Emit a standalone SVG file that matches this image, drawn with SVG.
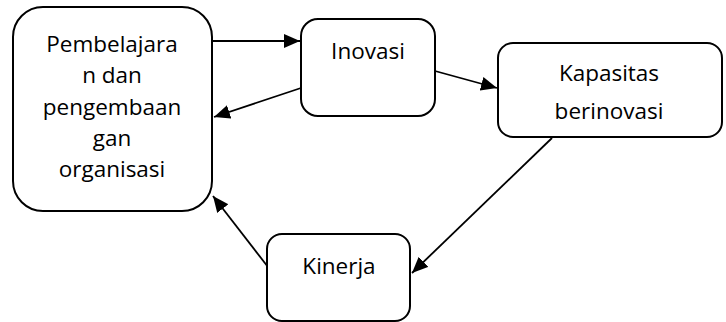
<svg xmlns="http://www.w3.org/2000/svg" width="726" height="322" viewBox="0 0 726 322">
<style>
.box{fill:#fff;stroke:#000;stroke-width:2}
.t{font-family:"Open Sans","Liberation Sans",sans-serif;font-size:22.5px;fill:#000;text-anchor:middle}
.c{stroke:#000;stroke-width:1.8;fill:none;marker-end:url(#ah)}
</style>
<defs>
<marker id="ah" markerUnits="userSpaceOnUse" markerWidth="17" markerHeight="15" refX="16" refY="7" orient="auto">
<path d="M0,0 L16,7 L0,14 Z" fill="#000"/>
</marker>
</defs>
<rect width="726" height="322" fill="#fff"/>
<g id="connectors">
<line class="c" x1="212" y1="41" x2="300" y2="41"/>
<line class="c" x1="301" y1="88" x2="214" y2="117"/>
<line class="c" x1="435" y1="71" x2="497" y2="88"/>
<line class="c" x1="552" y1="138" x2="412" y2="273"/>
<line class="c" x1="268" y1="267" x2="213" y2="196"/>
</g>
<g id="n1">
<rect class="box" x="13" y="7" width="199" height="204" rx="30"/>
<text class="t" x="112" y="52">Pembelajara</text>
<text class="t" x="112" y="83">n dan</text>
<text class="t" x="112" y="115">pengembaan</text>
<text class="t" x="112" y="146">gan</text>
<text class="t" x="112" y="177">organisasi</text>
</g>
<g id="n2">
<rect class="box" x="301" y="19" width="134" height="97" rx="17"/>
<text class="t" x="368" y="59">Inovasi</text>
</g>
<g id="n3">
<rect class="box" x="498" y="43" width="224" height="94" rx="15"/>
<text class="t" x="609" y="81">Kapasitas</text>
<text class="t" x="609" y="119">berinovasi</text>
</g>
<g id="n4">
<rect class="box" x="267" y="234" width="143" height="87" rx="15"/>
<text class="t" x="339" y="274">Kinerja</text>
</g>
</svg>
